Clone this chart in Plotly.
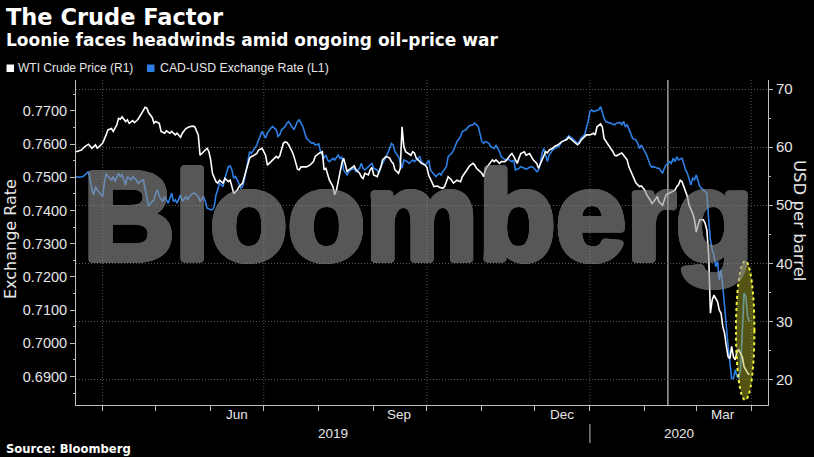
import math
import plotly.graph_objects as go
import pandas as pd

# ---------------- data ----------------
wti_dates = [
    "2019-03-17", "2019-03-20", "2019-03-22", "2019-03-24", "2019-03-26", "2019-03-28", "2019-03-29", "2019-03-30",
    "2019-04-01", "2019-04-03", "2019-04-04", "2019-04-06", "2019-04-07", "2019-04-09", "2019-04-10", "2019-04-11",
    "2019-04-12", "2019-04-14", "2019-04-15", "2019-04-16", "2019-04-18", "2019-04-19", "2019-04-21", "2019-04-23",
    "2019-04-25", "2019-04-26", "2019-04-27", "2019-04-29", "2019-04-30", "2019-05-01", "2019-05-03", "2019-05-04",
    "2019-05-06", "2019-05-07", "2019-05-09", "2019-05-10", "2019-05-12", "2019-05-13", "2019-05-15", "2019-05-16",
    "2019-05-18", "2019-05-20", "2019-05-22", "2019-05-23", "2019-05-25", "2019-05-26", "2019-05-28", "2019-05-30",
    "2019-05-31", "2019-06-01", "2019-06-02", "2019-06-04", "2019-06-05", "2019-06-06", "2019-06-08", "2019-06-09",
    "2019-06-11", "2019-06-12", "2019-06-13", "2019-06-14", "2019-06-16", "2019-06-17", "2019-06-19", "2019-06-20",
    "2019-06-21", "2019-06-23", "2019-06-24", "2019-06-25", "2019-06-27", "2019-06-28", "2019-06-30", "2019-07-01",
    "2019-07-02", "2019-07-03", "2019-07-05", "2019-07-06", "2019-07-08", "2019-07-09", "2019-07-10", "2019-07-12",
    "2019-07-13", "2019-07-14", "2019-07-15", "2019-07-17", "2019-07-18", "2019-07-20", "2019-07-21", "2019-07-22",
    "2019-07-25", "2019-07-27", "2019-07-29", "2019-07-30", "2019-08-01", "2019-08-03", "2019-08-04", "2019-08-05",
    "2019-08-06", "2019-08-07", "2019-08-09", "2019-08-10", "2019-08-11", "2019-08-12", "2019-08-13", "2019-08-14",
    "2019-08-15", "2019-08-16", "2019-08-17", "2019-08-18", "2019-08-19", "2019-08-21", "2019-08-22", "2019-08-24",
    "2019-08-25", "2019-08-26", "2019-08-27", "2019-08-29", "2019-08-30", "2019-08-31", "2019-09-01", "2019-09-03",
    "2019-09-04", "2019-09-05", "2019-09-06", "2019-09-08", "2019-09-10", "2019-09-11", "2019-09-12", "2019-09-13",
    "2019-09-15", "2019-09-16", "2019-09-17", "2019-09-18", "2019-09-19", "2019-09-20", "2019-09-22", "2019-09-23",
    "2019-09-24", "2019-09-25", "2019-09-27", "2019-09-28", "2019-09-30", "2019-10-01", "2019-10-02", "2019-10-04",
    "2019-10-05", "2019-10-07", "2019-10-08", "2019-10-10", "2019-10-11", "2019-10-12", "2019-10-13", "2019-10-15",
    "2019-10-16", "2019-10-17", "2019-10-18", "2019-10-20", "2019-10-21", "2019-10-23", "2019-10-24", "2019-10-25",
    "2019-10-27", "2019-10-28", "2019-10-29", "2019-10-30", "2019-11-01", "2019-11-02", "2019-11-03", "2019-11-04",
    "2019-11-06", "2019-11-07", "2019-11-08", "2019-11-09", "2019-11-11", "2019-11-12", "2019-11-14", "2019-11-15",
    "2019-11-17", "2019-11-18", "2019-11-19", "2019-11-21", "2019-11-22", "2019-11-23", "2019-11-25", "2019-11-26",
    "2019-11-28", "2019-11-29", "2019-11-30", "2019-12-02", "2019-12-03", "2019-12-05", "2019-12-07", "2019-12-08",
    "2019-12-09", "2019-12-11", "2019-12-12", "2019-12-14", "2019-12-15", "2019-12-16", "2019-12-18", "2019-12-19",
    "2019-12-20", "2019-12-22", "2019-12-23", "2019-12-25", "2019-12-26", "2019-12-27", "2019-12-29", "2019-12-30",
    "2020-01-01", "2020-01-03", "2020-01-04", "2020-01-05", "2020-01-07", "2020-01-08", "2020-01-09", "2020-01-11",
    "2020-01-12", "2020-01-14", "2020-01-15", "2020-01-16", "2020-01-18", "2020-01-19", "2020-01-20", "2020-01-22",
    "2020-01-23", "2020-01-26", "2020-01-27", "2020-01-29", "2020-01-30", "2020-02-01", "2020-02-02", "2020-02-04",
    "2020-02-05", "2020-02-06", "2020-02-08", "2020-02-09", "2020-02-11", "2020-02-12", "2020-02-13", "2020-02-15",
    "2020-02-16", "2020-02-18", "2020-02-19", "2020-02-20", "2020-02-21", "2020-02-22", "2020-02-23", "2020-02-25",
    "2020-02-26", "2020-02-28", "2020-02-29", "2020-03-01", "2020-03-02", "2020-03-03", "2020-03-05", "2020-03-06",
    "2020-03-07", "2020-03-08", "2020-03-09", "2020-03-10", "2020-03-11", "2020-03-13", "2020-03-14", "2020-03-15",
    "2020-03-16", "2020-03-17", "2020-03-18", "2020-03-19", "2020-03-20", "2020-03-21", "2020-03-22", "2020-03-23",
    "2020-03-24", "2020-03-25", "2020-03-27", "2020-03-28", "2020-03-30", "2020-03-31",
]
wti_prices = [
    59.2, 59.5, 60.1, 60.5, 59.8, 60.4, 59.8, 60.1,
    60.65, 62.1, 62.95, 63.2, 62.7, 63.8, 64.95, 64.8,
    65.2, 64.4, 64.7, 64.1, 64.55, 64.2, 64.8, 65.8,
    66.85, 66.7, 65.9, 65.1, 64.1, 64.4, 64.1, 62.7,
    62.4, 62.8, 62.4, 62.7, 62.1, 62.4, 61.7, 62.4,
    63.2, 63.5, 63.6, 63.5, 62.1, 58.6, 59.2, 59.8,
    59.2, 57.8, 55.5, 54.05, 53.8, 54.3, 53.8, 54.6,
    54.05, 54.3, 53.2, 52.0, 52.6, 53.2, 53.8, 54.9,
    56.1, 58.1, 58.4, 58.5, 58.9, 59.5, 59.8, 59.2,
    58.6, 56.9, 57.5, 57.8, 58.4, 58.1, 58.5, 60.65,
    60.9, 60.8, 60.4, 59.2, 58.4, 56.2, 56.1, 56.6,
    56.6, 56.9, 57.5, 58.4, 58.9, 59.2, 56.1, 56.35,
    55.2, 54.3, 53.2, 51.8, 52.6, 54.3, 55.8, 57.2,
    58.1, 56.9, 55.8, 56.1, 56.35, 56.75, 56.1, 55.5,
    54.9, 54.6, 55.5, 55.2, 56.1, 56.5, 55.2, 54.9,
    55.8, 56.5, 57.8, 58.4, 58.1, 57.5, 57.2, 56.1,
    55.5, 56.35, 63.5, 60.1, 59.2, 59.0, 58.6, 59.2,
    59.0, 58.1, 57.5, 57.2, 56.9, 56.5, 55.2, 53.8,
    53.2, 53.3, 53.1, 52.9, 53.2, 54.05, 54.9, 54.3,
    53.8, 54.05, 54.3, 54.05, 54.9, 55.8, 56.35, 56.75,
    57.2, 56.9, 56.35, 56.1, 55.5, 54.9, 56.1, 56.6,
    57.5, 57.8, 57.5, 57.8, 57.2, 57.5, 57.5, 57.8,
    58.6, 58.9, 58.4, 57.2, 58.1, 58.9, 59.2, 58.6,
    58.9, 58.4, 57.8, 57.2, 56.35, 57.8, 59.2, 59.0,
    59.5, 59.8, 60.1, 60.4, 60.65, 60.9, 61.2, 61.3,
    61.7, 61.2, 60.9, 60.4, 60.65, 61.2, 61.8, 62.1,
    62.1, 62.4, 62.1, 63.5, 64.0, 63.5, 61.5, 60.4,
    60.1, 59.2, 58.6, 58.5, 58.9, 59.0, 58.6, 57.8,
    56.6, 54.3, 53.8, 53.2, 53.3, 52.6, 51.8, 50.9,
    50.3, 50.6, 51.5, 50.6, 50.0, 50.9, 51.8, 52.1,
    52.3, 52.6, 53.2, 53.5, 54.3, 54.05, 53.2, 51.5,
    50.0, 48.6, 47.5, 45.4, 46.6, 47.5, 47.5, 46.9,
    45.7, 41.5, 31.4, 33.7, 34.5, 33.4, 31.96, 31.4,
    29.1, 27.95, 25.7, 23.9, 23.6, 25.7, 23.9, 23.4,
    24.8, 25.1, 23.9, 22.2, 21.1, 20.8,
]

cad_dates = [
    "2019-03-17", "2019-03-19", "2019-03-21", "2019-03-22", "2019-03-24", "2019-03-25", "2019-03-26", "2019-03-27",
    "2019-03-28", "2019-03-29", "2019-03-31", "2019-04-01", "2019-04-02", "2019-04-03", "2019-04-04", "2019-04-06",
    "2019-04-07", "2019-04-08", "2019-04-10", "2019-04-11", "2019-04-12", "2019-04-14", "2019-04-15", "2019-04-17",
    "2019-04-18", "2019-04-20", "2019-04-21", "2019-04-22", "2019-04-24", "2019-04-25", "2019-04-26", "2019-04-27",
    "2019-04-28", "2019-04-30", "2019-05-01", "2019-05-02", "2019-05-03", "2019-05-05", "2019-05-06", "2019-05-07",
    "2019-05-08", "2019-05-10", "2019-05-11", "2019-05-12", "2019-05-13", "2019-05-15", "2019-05-16", "2019-05-18",
    "2019-05-19", "2019-05-20", "2019-05-22", "2019-05-23", "2019-05-25", "2019-05-26", "2019-05-28", "2019-05-29",
    "2019-05-30", "2019-06-01", "2019-06-02", "2019-06-03", "2019-06-04", "2019-06-05", "2019-06-06", "2019-06-08",
    "2019-06-09", "2019-06-11", "2019-06-12", "2019-06-13", "2019-06-14", "2019-06-15", "2019-06-16", "2019-06-18",
    "2019-06-19", "2019-06-20", "2019-06-21", "2019-06-22", "2019-06-23", "2019-06-24", "2019-06-26", "2019-06-27",
    "2019-06-28", "2019-06-29", "2019-06-30", "2019-07-02", "2019-07-03", "2019-07-05", "2019-07-06", "2019-07-08",
    "2019-07-09", "2019-07-10", "2019-07-11", "2019-07-13", "2019-07-14", "2019-07-15", "2019-07-17", "2019-07-18",
    "2019-07-20", "2019-07-21", "2019-07-22", "2019-07-23", "2019-07-25", "2019-07-26", "2019-07-28", "2019-07-29",
    "2019-07-30", "2019-08-01", "2019-08-02", "2019-08-04", "2019-08-05", "2019-08-06", "2019-08-07", "2019-08-09",
    "2019-08-10", "2019-08-12", "2019-08-13", "2019-08-14", "2019-08-15", "2019-08-17", "2019-08-18", "2019-08-19",
    "2019-08-21", "2019-08-22", "2019-08-24", "2019-08-25", "2019-08-26", "2019-08-27", "2019-08-29", "2019-08-30",
    "2019-08-31", "2019-09-01", "2019-09-03", "2019-09-04", "2019-09-05", "2019-09-06", "2019-09-08", "2019-09-10",
    "2019-09-11", "2019-09-12", "2019-09-13", "2019-09-15", "2019-09-16", "2019-09-17", "2019-09-18", "2019-09-20",
    "2019-09-21", "2019-09-23", "2019-09-24", "2019-09-25", "2019-09-27", "2019-09-28", "2019-09-30", "2019-10-01",
    "2019-10-02", "2019-10-03", "2019-10-05", "2019-10-06", "2019-10-08", "2019-10-09", "2019-10-10", "2019-10-12",
    "2019-10-13", "2019-10-15", "2019-10-16", "2019-10-17", "2019-10-18", "2019-10-20", "2019-10-21", "2019-10-23",
    "2019-10-24", "2019-10-25", "2019-10-27", "2019-10-28", "2019-10-30", "2019-10-31", "2019-11-01", "2019-11-02",
    "2019-11-03", "2019-11-05", "2019-11-06", "2019-11-08", "2019-11-09", "2019-11-11", "2019-11-12", "2019-11-13",
    "2019-11-15", "2019-11-16", "2019-11-18", "2019-11-19", "2019-11-20", "2019-11-22", "2019-11-23", "2019-11-25",
    "2019-11-26", "2019-11-28", "2019-11-29", "2019-11-30", "2019-12-02", "2019-12-03", "2019-12-04", "2019-12-05",
    "2019-12-06", "2019-12-08", "2019-12-09", "2019-12-11", "2019-12-12", "2019-12-14", "2019-12-15", "2019-12-16",
    "2019-12-18", "2019-12-19", "2019-12-20", "2019-12-22", "2019-12-23", "2019-12-25", "2019-12-26", "2019-12-27",
    "2019-12-29", "2019-12-30", "2019-12-31", "2020-01-01", "2020-01-02", "2020-01-03", "2020-01-06", "2020-01-07",
    "2020-01-08", "2020-01-09", "2020-01-10", "2020-01-12", "2020-01-13", "2020-01-15", "2020-01-16", "2020-01-18",
    "2020-01-19", "2020-01-20", "2020-01-21", "2020-01-22", "2020-01-24", "2020-01-25", "2020-01-27", "2020-01-28",
    "2020-01-29", "2020-01-30", "2020-02-01", "2020-02-02", "2020-02-04", "2020-02-05", "2020-02-06", "2020-02-08",
    "2020-02-09", "2020-02-11", "2020-02-12", "2020-02-13", "2020-02-15", "2020-02-16", "2020-02-17", "2020-02-18",
    "2020-02-19", "2020-02-20", "2020-02-22", "2020-02-23", "2020-02-24", "2020-02-25", "2020-02-27", "2020-02-28",
    "2020-02-29", "2020-03-01", "2020-03-02", "2020-03-03", "2020-03-05", "2020-03-06", "2020-03-07", "2020-03-08",
    "2020-03-09", "2020-03-10", "2020-03-11", "2020-03-12", "2020-03-13", "2020-03-14", "2020-03-15", "2020-03-16",
    "2020-03-17", "2020-03-18", "2020-03-19", "2020-03-20", "2020-03-21", "2020-03-22", "2020-03-23", "2020-03-24",
    "2020-03-25", "2020-03-26", "2020-03-28", "2020-03-29", "2020-03-30", "2020-03-31",
]
cad_rates = [
    0.7502, 0.7500, 0.7502, 0.7507, 0.7517, 0.7492, 0.7462, 0.7447,
    0.7472, 0.7462, 0.7447, 0.7442, 0.7482, 0.7512, 0.7502, 0.7492,
    0.7502, 0.7487, 0.7512, 0.7502, 0.7507, 0.7477, 0.7502, 0.7492,
    0.7502, 0.7492, 0.7482, 0.7487, 0.7492, 0.7462, 0.7442, 0.7412,
    0.7422, 0.7432, 0.7452, 0.7462, 0.7442, 0.7427, 0.7442, 0.7432,
    0.7422, 0.7452, 0.7427, 0.7432, 0.7422, 0.7447, 0.7427, 0.7442,
    0.7432, 0.7442, 0.7452, 0.7452, 0.7442, 0.7427, 0.7442, 0.7427,
    0.7407, 0.7402, 0.7402, 0.7412, 0.7447, 0.7462, 0.7482, 0.7472,
    0.7497, 0.7532, 0.7534, 0.7522, 0.7497, 0.7502, 0.7492, 0.7467,
    0.7472, 0.7492, 0.7522, 0.7557, 0.7577, 0.7572, 0.7587, 0.7597,
    0.7612, 0.7628, 0.7638, 0.7618, 0.7633, 0.7648, 0.7653, 0.7643,
    0.7623, 0.7628, 0.7643, 0.7653, 0.7663, 0.7668, 0.7653, 0.7643,
    0.7668, 0.7673, 0.7663, 0.7653, 0.7618, 0.7612, 0.7602, 0.7604,
    0.7597, 0.7600, 0.7577, 0.7557, 0.7567, 0.7552, 0.7547, 0.7557,
    0.7552, 0.7567, 0.7557, 0.7562, 0.7522, 0.7507, 0.7517, 0.7522,
    0.7527, 0.7517, 0.7527, 0.7542, 0.7527, 0.7522, 0.7532, 0.7537,
    0.7542, 0.7527, 0.7522, 0.7512, 0.7532, 0.7542, 0.7562, 0.7587,
    0.7602, 0.7597, 0.7577, 0.7562, 0.7542, 0.7527, 0.7552, 0.7547,
    0.7542, 0.7552, 0.7547, 0.7552, 0.7562, 0.7547, 0.7537, 0.7542,
    0.7552, 0.7522, 0.7507, 0.7502, 0.7512, 0.7507, 0.7517, 0.7532,
    0.7562, 0.7572, 0.7582, 0.7597, 0.7607, 0.7623, 0.7638, 0.7643,
    0.7648, 0.7655, 0.7658, 0.7663, 0.7653, 0.7633, 0.7608, 0.7602,
    0.7608, 0.7602, 0.7592, 0.7587, 0.7597, 0.7577, 0.7562, 0.7557,
    0.7552, 0.7554, 0.7547, 0.7552, 0.7522, 0.7527, 0.7532, 0.7527,
    0.7524, 0.7530, 0.7532, 0.7530, 0.7517, 0.7522, 0.7542, 0.7572,
    0.7587, 0.7547, 0.7567, 0.7582, 0.7587, 0.7592, 0.7597, 0.7607,
    0.7612, 0.7618, 0.7625, 0.7618, 0.7612, 0.7602, 0.7607, 0.7618,
    0.7628, 0.7648, 0.7668, 0.7698, 0.7703, 0.7698, 0.7703, 0.7713,
    0.7693, 0.7678, 0.7668, 0.7663, 0.7663, 0.7658, 0.7663, 0.7665,
    0.7658, 0.7668, 0.7653, 0.7658, 0.7633, 0.7618, 0.7612, 0.7602,
    0.7587, 0.7597, 0.7577, 0.7567, 0.7537, 0.7530, 0.7532, 0.7527,
    0.7527, 0.7512, 0.7527, 0.7537, 0.7547, 0.7542, 0.7557, 0.7547,
    0.7562, 0.7552, 0.7557, 0.7537, 0.7522, 0.7512, 0.7477, 0.7497,
    0.7492, 0.7507, 0.7487, 0.7472, 0.7462, 0.7457, 0.7452, 0.7372,
    0.7311, 0.7281, 0.7266, 0.7231, 0.7246, 0.7191, 0.7221, 0.7171,
    0.7100, 0.7050, 0.6990, 0.6940, 0.6894, 0.6894, 0.6920, 0.6900,
    0.6894, 0.6920, 0.7151, 0.7140, 0.7080, 0.7065,
]

cad_ticks = [0.69, 0.70, 0.71, 0.72, 0.73, 0.74, 0.75, 0.76, 0.77]
wti_ticks = [20, 30, 40, 50, 60, 70]
month_labels = ["Jun", "Sep", "Dec", "Mar"]
month_label_dates = ["2019-06-16", "2019-09-15", "2019-12-16", "2020-03-16"]
year_labels = ["2019", "2020"]

# ---------------- layout geometry ----------------
W, H = 814, 457
L, R, T, B = 76, 768, 80, 405
X_START, X_END = pd.Timestamp("2019-03-17"), pd.Timestamp("2020-04-10 12:00")
YEAR_BREAK = pd.Timestamp("2020-01-01")
EVENT_LINE = "2020-02-14"


def px(x):
    return (x - L) / (R - L)


def py(y):
    return (B - y) / (B - T)


BG = "#000000"
FG = "#e6e6e6"
AXIS = "#bdbdbd"
GRID = "#555555"
BLUE = "#2d7fe3"
WM = "#929292"
DOTS = "1px,2px"

fig = go.Figure()
fig.add_trace(go.Scatter(x=cad_dates, y=cad_rates, mode="lines", yaxis="y",
                         line=dict(color=BLUE, width=1.6), name="CAD-USD Exchange Rate (L1)"))
fig.add_trace(go.Scatter(x=wti_dates, y=wti_prices, mode="lines", yaxis="y2",
                         line=dict(color="#ffffff", width=1.6), name="WTI Crude Price (R1)"))

month_starts = pd.date_range("2019-04-01", "2020-04-01", freq="MS")
quarter_starts = pd.date_range("2019-04-01", "2020-04-01", freq="QS")

shapes = []
for q in quarter_starts:
    shapes.append(dict(type="line", xref="x", yref="paper", x0=q, x1=q, y0=0, y1=1,
                       line=dict(color=GRID, width=1, dash=DOTS), layer="below"))
shapes.append(dict(type="line", xref="x", yref="paper", x0=EVENT_LINE, x1=EVENT_LINE, y0=0, y1=1,
                   line=dict(color="#c8c8c8", width=1.2), layer="below"))
# year separator under the axis
shapes.append(dict(type="line", xref="x", yref="paper", x0=YEAR_BREAK, x1=YEAR_BREAK,
                   y0=py(424), y1=py(443), line=dict(color=AXIS, width=1)))
# highlight ellipse
shapes.append(dict(type="circle", xref="x", yref="y", x0="2020-03-23 10:00", x1="2020-04-02 20:00",
                   y0=0.6829, y1=0.7248, fillcolor="rgba(185,185,45,0.45)",
                   line=dict(color="#f2f23a", width=2, dash="dot"), layer="above"))
# legend swatches
shapes.append(dict(type="rect", xref="paper", yref="paper", x0=px(6.5), x1=px(14), y0=py(72), y1=py(64.5),
                   fillcolor="#ffffff", line=dict(width=0)))
shapes.append(dict(type="rect", xref="paper", yref="paper", x0=px(147), x1=px(154.5), y0=py(72), y1=py(64.5),
                   fillcolor=BLUE, line=dict(width=0)))

ann = []
ann.append(dict(text="<b>The Crude Factor</b>", x=px(4), y=py(17), xref="paper", yref="paper",
                xanchor="left", yanchor="middle", showarrow=False,
                font=dict(family="DejaVu Sans", size=22.5, color="#ffffff")))
ann.append(dict(text="<b>Loonie faces headwinds amid ongoing oil-price war</b>", x=px(4), y=py(40),
                xref="paper", yref="paper", xanchor="left", yanchor="middle", showarrow=False,
                font=dict(family="DejaVu Sans", size=17, color="#ffffff")))
ann.append(dict(text="WTI Crude Price (R1)", x=px(16), y=py(68), xref="paper", yref="paper",
                xanchor="left", yanchor="middle", showarrow=False,
                font=dict(family="Liberation Sans", size=12, color=FG)))
ann.append(dict(text="CAD-USD Exchange Rate (L1)", x=px(157.5), y=py(68), xref="paper", yref="paper",
                xanchor="left", yanchor="middle", showarrow=False,
                font=dict(family="Liberation Sans", size=12.3, color=FG)))
ann.append(dict(text="<b>Source: Bloomberg</b>", x=px(4), y=py(449), xref="paper", yref="paper",
                xanchor="left", yanchor="middle", showarrow=False,
                font=dict(family="DejaVu Sans", size=11.6, color="#ffffff")))
ann.append(dict(text="Exchange Rate", x=px(10), y=py(239), xref="paper", yref="paper", textangle=-90,
                xanchor="center", yanchor="middle", showarrow=False,
                font=dict(family="DejaVu Sans", size=16, color=FG)))
ann.append(dict(text="USD per barrel", x=px(800), y=py(220), xref="paper", yref="paper", textangle=90,
                xanchor="center", yanchor="middle", showarrow=False,
                font=dict(family="DejaVu Sans", size=16.5, color=FG)))
for lab, d in zip(month_labels, month_label_dates):
    ann.append(dict(text=lab, x=d, y=py(414), xref="x", yref="paper", xanchor="center", yanchor="middle",
                    showarrow=False, font=dict(family="Liberation Sans", size=13.5, color=FG)))
year_centers = [X_START + (YEAR_BREAK - X_START) / 2, YEAR_BREAK + (X_END - YEAR_BREAK) / 2]
for lab, c in zip(year_labels, year_centers):
    ann.append(dict(text=lab, x=c, y=py(433), xref="x", yref="paper", xanchor="center", yanchor="middle",
                    showarrow=False, font=dict(family="Liberation Sans", size=13.5, color=FG)))

# heavy watermark: bold glyphs thickened by a ring of hard text shadows
ring = []
for r, n in ((3.0, 20), (1.6, 10)):
    for k in range(n):
        a = 2 * math.pi * k / n
        ring.append("%.2fpx %.2fpx 0 %s" % (r * math.cos(a), r * math.sin(a), WM))
ann.append(dict(text="<b>Bloomberg</b>", x=px(418), y=py(216), xref="paper", yref="paper",
                xanchor="center", yanchor="middle", showarrow=False, opacity=0.6,
                font=dict(family="Liberation Sans", size=127, color=WM, shadow=", ".join(ring))))

fig.update_layout(
    width=W, height=H,
    margin=dict(l=L, r=W - R, t=T, b=H - B, pad=0),
    paper_bgcolor=BG, plot_bgcolor=BG,
    showlegend=False,
    shapes=shapes,
    annotations=ann,
    xaxis=dict(type="date", range=[X_START, X_END], showgrid=False, zeroline=False,
               showline=True, linecolor=AXIS, linewidth=1,
               tickmode="array", tickvals=list(month_starts), ticktext=[""] * len(month_starts),
               ticks="outside", ticklen=5, tickcolor=AXIS, showticklabels=False),
    yaxis=dict(range=[0.6814, 0.7793], tickmode="array", tickvals=cad_ticks,
               ticktext=["%.4f" % v for v in cad_ticks], showgrid=False, zeroline=False,
               showline=True, linecolor=AXIS, linewidth=1, ticks="outside", ticklen=5, tickcolor=AXIS,
               minor=dict(ticks="outside", ticklen=2, tickcolor=AXIS, dtick=0.005, tick0=0.685, showgrid=False),
               tickfont=dict(family="Liberation Sans", size=14.5, color=FG)),
    yaxis2=dict(range=[15.61, 71.55], overlaying="y", side="right", tickmode="array", tickvals=wti_ticks,
                showgrid=True, gridcolor=GRID, gridwidth=1, griddash=DOTS, zeroline=False,
                showline=True, linecolor=AXIS, linewidth=1, ticks="outside", ticklen=4, tickcolor=AXIS,
                minor=dict(ticks="outside", ticklen=2, tickcolor=AXIS, dtick=5, tick0=15, showgrid=False),
                tickfont=dict(family="Liberation Sans", size=15, color=FG)),
)

fig.write_html("out.html")
